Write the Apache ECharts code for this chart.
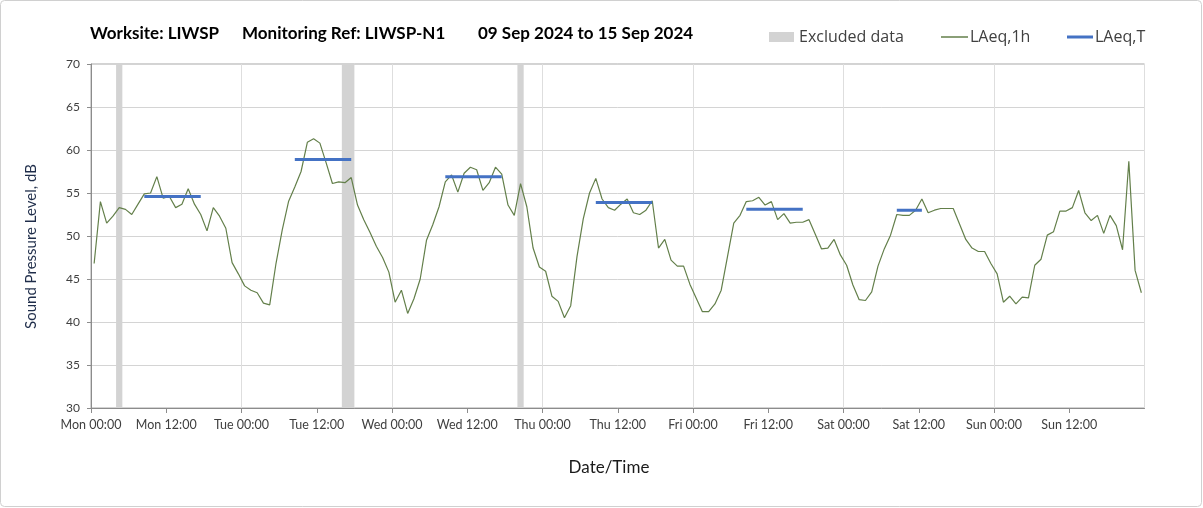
<!DOCTYPE html>
<html><head><meta charset="utf-8">
<script src="https://cdn.jsdelivr.net/npm/echarts@6/dist/echarts.min.js"></script>
<style>html,body{margin:0;padding:0;background:#fff}#c{width:1203px;height:508px}</style>
</head><body><div id="c"></div>
<script>
// ---- data ----
const dayNames = ['Mon','Tue','Wed','Thu','Fri','Sat','Sun'];
const tickTimes = ['00:00','12:00'];
const laeq1hMon = [46.8,54.0,51.5,52.3,53.3,53.1,52.5,53.7,54.9,55.0,56.9,54.4,54.6,53.3,53.7,55.5,53.7,52.5,50.6,53.3,52.3,50.9,46.9,45.6];
const laeq1hTue = [44.2,43.7,43.4,42.2,42.0,46.8,50.7,54.0,55.7,57.5,60.9,61.3,60.8,58.5,56.1,56.3,56.2,56.8,53.6,51.9,50.4,48.8,47.5,45.8];
const laeq1hWed = [42.3,43.7,41.0,42.7,45.0,49.5,51.3,53.4,56.3,57.1,55.1,57.3,58.0,57.7,55.3,56.2,58.0,57.2,53.6,52.4,56.1,53.4,48.6,46.4];
const laeq1hThu = [45.9,43.0,42.4,40.5,41.9,47.6,52.0,55.0,56.7,54.3,53.3,53.0,53.7,54.3,52.7,52.5,53.0,54.1,48.6,49.6,47.2,46.5,46.5,44.4];
const laeq1hFri = [42.8,41.2,41.2,42.1,43.7,47.6,51.5,52.4,54.0,54.1,54.5,53.6,54.0,51.9,52.6,51.5,51.6,51.6,51.9,50.2,48.5,48.6,49.6,47.8];
const laeq1hSat = [46.6,44.3,42.6,42.5,43.5,46.5,48.5,50.1,52.5,52.4,52.4,53.0,54.3,52.7,53.0,53.2,53.2,53.2,51.4,49.6,48.6,48.2,48.2,46.8];
const laeq1hSun = [45.6,42.3,43.0,42.1,42.9,42.8,46.6,47.3,50.1,50.5,52.9,52.9,53.3,55.3,52.7,51.8,52.4,50.3,52.4,51.2,48.4,58.7,46.0,43.4];
// excluded periods (hours from Mon 00:00)
const excludedStart = [4, 40, 68];
const excludedEnd   = [5, 42, 69];
// LAeq,T daytime periods (hour index from Mon 00:00, inclusive)
const laeqTStart  = [8, 32, 56, 80, 104, 128];
const laeqTEnd    = [17, 41, 65, 89, 113, 132];
const laeqTValues = [54.6, 58.9, 56.9, 53.9, 53.1, 53.0];

// ---- build ----
const hourCentre = 0.5;
const allHours = [].concat(laeq1hMon, laeq1hTue, laeq1hWed, laeq1hThu, laeq1hFri, laeq1hSat, laeq1hSun);
const lineData = allHours.map((v, i) => [i + hourCentre, v]);
const tData = [];
laeqTStart.forEach((s, k) => {
  for (let h = s; h <= laeqTEnd[k]; h++) tData.push([h + hourCentre, laeqTValues[k]]);
  tData.push([laeqTEnd[k] + hourCentre + 0.01, null]);
});
const exData = excludedStart.map((s, k) => [s, excludedEnd[k]]);

const FONT = 'Lato';
const LFONT = 'Open Sans';
const titleStyle = {fontFamily: FONT, fontSize: 17, fontWeight: 'bold', color: '#000'};
const chart = echarts.init(document.getElementById('c'), null, {renderer: 'canvas'});
chart.setOption({
  animation: false,
  backgroundColor: '#fff',
  textStyle: {fontFamily: FONT},
  title: [
    {text: 'Worksite: LIWSP', left: 90, top: 25, padding: 0, textStyle: titleStyle},
    {text: 'Monitoring Ref: LIWSP-N1', left: 242, top: 25, padding: 0, textStyle: titleStyle},
    {text: '09 Sep 2024 to 15 Sep 2024', left: 478, top: 25, padding: 0, textStyle: titleStyle}
  ],
  legend: [
    {data: ['Excluded data'], left: 769, top: 29, padding: 0, icon: 'rect', itemWidth: 25, itemHeight: 10, itemGap: 5,
     textStyle: {fontFamily: LFONT, fontSize: 16, color: '#404040'}},
    {data: ['LAeq,1h'], left: 941, top: 29, padding: 0, icon: 'rect', itemWidth: 27, itemHeight: 1.5,
     textStyle: {fontFamily: LFONT, fontSize: 16, color: '#404040', padding: [0, 0, 0, -3]}},
    {data: ['LAeq,T'], left: 1067, top: 29, padding: 0, icon: 'rect', itemWidth: 26, itemHeight: 3,
     textStyle: {fontFamily: LFONT, fontSize: 16, color: '#404040', padding: [0, 0, 0, -3]}}
  ],
  grid: {left: 91, right: 58.5, top: 64, bottom: 100, show: true, borderColor: '#a6a6a6', borderWidth: 1},
  xAxis: [
    {type: 'value', min: 0, max: 168, interval: 12,
     axisLine: {show: true, lineStyle: {color: '#8c8c8c'}},
     axisTick: {show: true, length: 5, lineStyle: {color: '#8c8c8c'}},
     splitLine: {show: false},
     axisLabel: {fontFamily: FONT, fontSize: 12.5, color: '#404040', margin: 10, showMaxLabel: false,
       formatter: v => v >= 168 ? '' : dayNames[Math.floor(v / 24)] + ' ' + tickTimes[(v % 24) / 12]}},
    {type: 'value', min: 0, max: 168, interval: 24, position: 'bottom',
     axisLine: {show: false}, axisTick: {show: false}, axisLabel: {show: false},
     splitLine: {show: true, lineStyle: {color: '#dedede', width: 1}}}
  ],
  yAxis: {type: 'value', min: 30, max: 70, interval: 5,
    axisLine: {show: true, lineStyle: {color: '#8c8c8c'}},
    axisTick: {show: true, length: 4, lineStyle: {color: '#8c8c8c'}},
    splitLine: {show: true, lineStyle: {color: '#d4d4d4', width: 1}},
    axisLabel: {fontFamily: FONT, fontSize: 12, color: '#404040', margin: 11}},
  graphic: [
    {type: 'rect', shape: {x: 0.5, y: 0.5, width: 1201, height: 506, r: 4}, style: {fill: 'none', stroke: '#d0d0d0', lineWidth: 1}, silent: true, z: -1},
    {type: 'text', x: 31.5, y: 246.5, rotation: Math.PI / 2,
     style: {text: 'Sound Pressure Level, dB', fontFamily: FONT, fontSize: 15, fill: '#1f2d4a', align: 'center', verticalAlign: 'middle'}},
    {type: 'text', x: 609, y: 468,
     style: {text: 'Date/Time', fontFamily: FONT, fontSize: 17, fill: '#1a1a1a', align: 'center', verticalAlign: 'middle'}}
  ],
  series: [
    {name: 'Excluded data', type: 'custom', xAxisIndex: 0, color: '#d3d3d3', z: 1,
     data: exData,
     renderItem: (params, api) => {
       const p0 = api.coord([api.value(0), 70]);
       const p1 = api.coord([api.value(1), 30]);
       return {type: 'rect', shape: {x: p0[0], y: p0[1], width: p1[0] - p0[0], height: p1[1] - p0[1]},
               style: {fill: '#d3d3d3'}};
     }},
    {name: 'LAeq,1h', type: 'line', xAxisIndex: 0, data: lineData, showSymbol: false, symbol: 'none',
     color: '#637f4a', lineStyle: {color: '#637f4a', width: 1.2}, z: 3},
    {name: 'LAeq,T', type: 'line', xAxisIndex: 0, data: tData, showSymbol: false, symbol: 'none', connectNulls: false,
     color: '#4472c4', lineStyle: {color: '#4472c4', width: 3, cap: 'butt'}, z: 4}
  ]
});
</script></body></html>
